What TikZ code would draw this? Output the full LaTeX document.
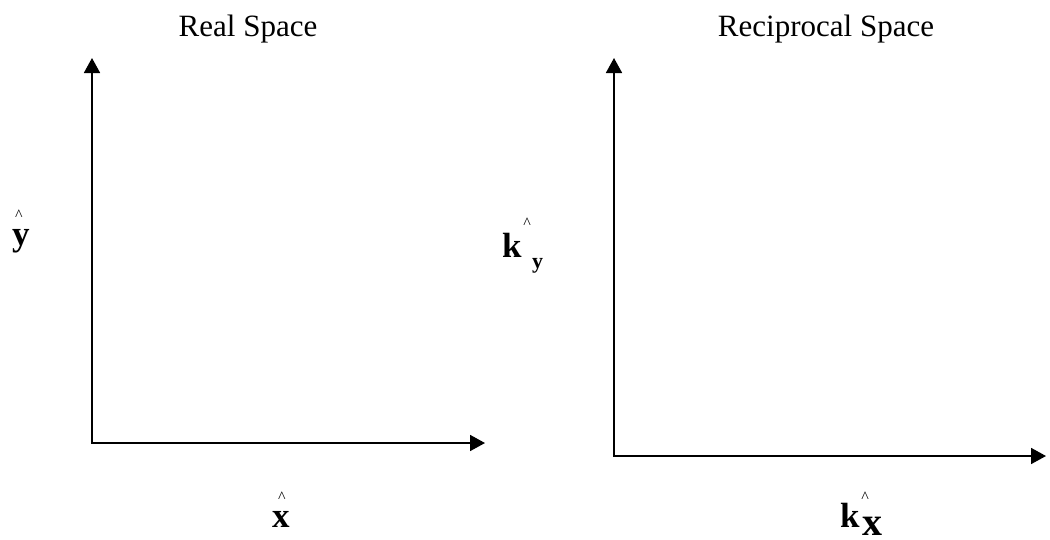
\documentclass[tikz,border=0pt]{standalone}
\usepackage{fontspec}
\setmainfont{Liberation Serif}
\usetikzlibrary{arrows.meta}
\tikzset{
  axis/.style={line width=1.8pt, black,
    {Triangle[length=15pt,width=16pt]}-{Triangle[length=15pt,width=16pt]}},
  title/.style={inner sep=0pt, anchor=base, font=\fontsize{31}{33}\selectfont},
  vec/.style={inner sep=0pt, anchor=base west, font=\fontsize{35}{37}\selectfont\bfseries},
  hat/.style={inner sep=0pt, anchor=base, text height=11pt, text depth=0pt, font=\fontsize{16}{18}\selectfont},
  sub/.style={inner sep=0pt, anchor=base west, font=\fontsize{22}{24}\selectfont\bfseries},
  bigsub/.style={inner sep=0pt, anchor=base west, text depth=0pt, font=\fontsize{40}{42}\selectfont\bfseries}
}
\begin{document}
\begin{tikzpicture}[x=1pt,y=-1pt]
\useasboundingbox (0,0) rectangle (1050,539);
% titles
\node[title] (t1) at (248,36) {Real Space};
\node[title] (t2) at (826,36) {Reciprocal Space};
% left axes
\coordinate (o1) at (92,443);
\coordinate (ytop1) at (92,58);
\coordinate (xend1) at (485,443);
\draw[axis] (ytop1) -- (o1) -- (xend1);
% right axes
\coordinate (o2) at (614,456);
\coordinate (ytop2) at (614,58);
\coordinate (xend2) at (1046,456);
\draw[axis] (ytop2) -- (o2) -- (xend2);
% y hat
\node[vec] (ylab) at (12,245) {y};
\node[hat] (yhat) at (19,220) {\symbol{94}};
% x hat
\node[vec] (xlab) at (272,527) {x};
\node[hat] (xhat) at (282,502) {\symbol{94}};
% k hat y
\node[vec] (kylab) at (502,257) {k};
\node[hat] (kyhat) at (527,228) {\symbol{94}};
\node[sub] (kysub) at (532,268) {y};
% k hat x
\node[vec] (kxlab) at (840,527) {k};
\node[hat] (kxhat) at (865,502) {\symbol{94}};
\node[bigsub] (kxsub) at (862,535) {x};
\end{tikzpicture}
\end{document}
